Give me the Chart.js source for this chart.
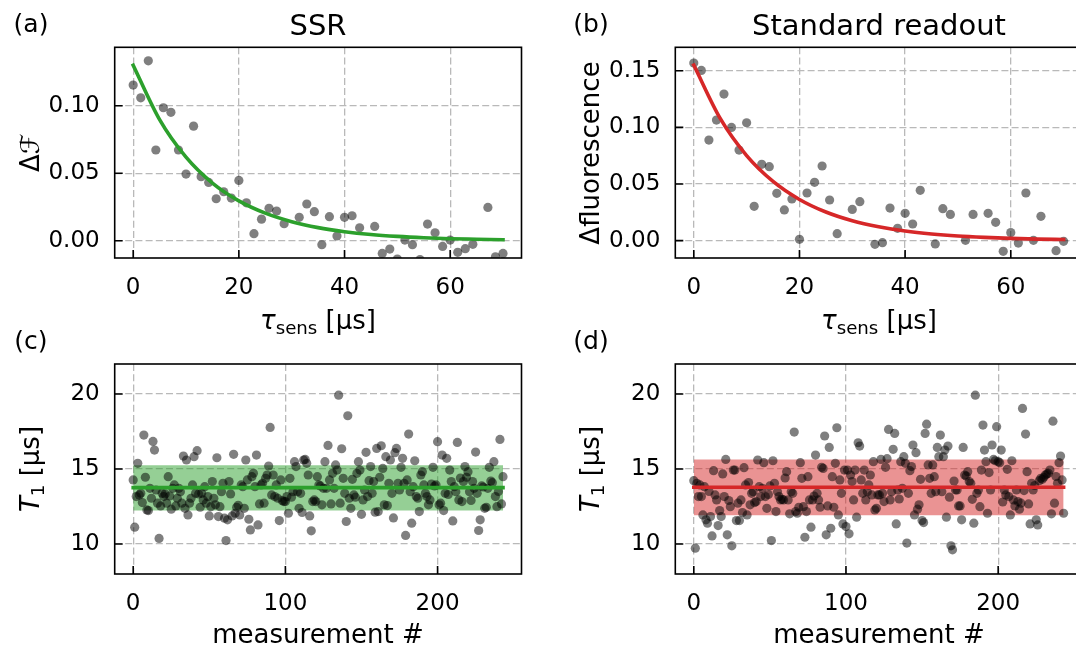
<!DOCTYPE html>
<html>
<head>
<meta charset="utf-8">
<script src="https://cdn.jsdelivr.net/npm/chart.js@4.4.1/dist/chart.umd.min.js"></script>
<style>
  html, body { margin: 0; padding: 0; background: #fff; }
  #fig { position: relative; width: 1076px; height: 652px; overflow: hidden; font-family: "DejaVu Sans", sans-serif; color: #000; }
  canvas { position: absolute; }
  .txt { position: absolute; transform: translate(-50%, -50%); white-space: nowrap; line-height: 1; }
  .rot { transform: translate(-50%, -50%) rotate(-90deg); }
  .letter { font-size: 25px; }
  .title { font-size: 29px; }
  .axlab { font-size: 26px; }
  sub { font-size: 0.7em; vertical-align: -0.25em; line-height: 0; }
</style>
</head>
<body>
<div id="fig">
  <canvas id="cA" width="540" height="326" style="left:0;top:0"></canvas>
  <canvas id="cB" width="560" height="326" style="left:540px;top:0"></canvas>
  <canvas id="cC" width="540" height="326" style="left:0;top:326px"></canvas>
  <canvas id="cD" width="560" height="326" style="left:540px;top:326px"></canvas>

  <div class="txt letter" style="left:31px;top:23px">(a)</div>
  <div class="txt title" style="left:318px;top:25px">SSR</div>
  <div class="txt letter" style="left:591px;top:23px">(b)</div>
  <div class="txt title" style="left:879px;top:25px">Standard readout</div>
  <div class="txt letter" style="left:31px;top:340px">(c)</div>
  <div class="txt letter" style="left:591px;top:340px">(d)</div>

  <div class="txt axlab" style="left:318px;top:320px"><i>τ</i><sub>sens</sub> [μs]</div>
  <div class="txt axlab" style="left:879px;top:320px"><i>τ</i><sub>sens</sub> [μs]</div>
  <div class="txt axlab" style="left:318px;top:634px">measurement #</div>
  <div class="txt axlab" style="left:879px;top:634px">measurement #</div>

  <div class="txt axlab rot" style="left:30px;top:153px">Δℱ</div>
  <div class="txt axlab rot" style="left:590px;top:153px">Δfluorescence</div>
  <div class="txt axlab rot" style="left:30px;top:469px"><i>T</i><sub>1</sub> [μs]</div>
  <div class="txt axlab rot" style="left:590px;top:469px"><i>T</i><sub>1</sub> [μs]</div>
</div>

<script>
// sensing times, 50 steps from 0 to 70 us
const tauSens = [0, 1.43, 2.86, 4.29, 5.71, 7.14, 8.57, 10, 11.43, 12.86,
  14.29, 15.71, 17.14, 18.57, 20, 21.43, 22.86, 24.29, 25.71, 27.14,
  28.57, 30, 31.43, 32.86, 34.29, 35.71, 37.14, 38.57, 40, 41.43,
  42.86, 44.29, 45.71, 47.14, 48.57, 50, 51.43, 52.86, 54.29, 55.71,
  57.14, 58.57, 60, 61.43, 62.86, 64.29, 65.71, 67.14, 68.57, 70];

const ssrSignal = [0.1153, 0.1059, 0.1333, 0.0672, 0.0985, 0.0951, 0.0672, 0.0494, 0.0849, 0.0474,
  0.0432, 0.0311, 0.0363, 0.0316, 0.0447, 0.0281, 0.0052, 0.0160, 0.0240, 0.0220,
  0.0126, -0.025, 0.0173, 0.0272, 0.0215, -0.0030, 0.0178, 0.0035, 0.0173, 0.0185,
  0.0096, -0.025, 0.0106, -0.0094, -0.0062, -0.0136, 0.0005, -0.0030, -0.0140, 0.0123,
  0.0059, -0.0042, 0.0005, -0.0086, -0.0059, -0.0027, -0.025, 0.0247, -0.0119, -0.0094];

const stdSignal = [0.1568, 0.1503, 0.0888, 0.1065, 0.1294, 0.1000, 0.0800, 0.1041, 0.0303, 0.0674,
  0.0653, 0.0418, 0.0271, 0.0368, 0.0012, 0.0421, 0.0515, 0.0659, 0.0359, 0.0062,
  -0.025, 0.0276, 0.0344, -0.025, -0.0032, -0.0018, 0.0288, 0.0109, 0.0241, 0.0147,
  0.0444, -0.025, -0.0029, 0.0282, 0.0232, -0.025, 0.0003, 0.0232, -0.025, 0.0241,
  0.0162, -0.0094, 0.0071, -0.0021, 0.0421, 0.0003, 0.0215, -0.025, -0.0088, -0.0006];

// exponential fits
const fitTau = [0, 5, 10, 15, 20, 25, 30, 35, 40, 45, 50, 55, 60, 65, 70];
const ssrFit = [0.1300, 0.0897, 0.0619, 0.0427, 0.0295, 0.0204, 0.0141, 0.0097, 0.0067, 0.0046, 0.0032, 0.0022, 0.0015, 0.0011, 0.0007];
const stdFit = [0.1550, 0.1079, 0.0751, 0.0523, 0.0364, 0.0253, 0.0176, 0.0123, 0.0085, 0.0059, 0.0041, 0.0029, 0.0020, 0.0014, 0.0010];

// repeated T1 measurements (us), measurement # = position in list
const ssrT1 = [14.27, 11.12, 13.16, 15.38, 13.27, 13.38, 12.76, 17.26, 14.45, 12.27,
  12.23, 13.71, 13.05, 16.84, 16.26, 13.60, 12.72, 10.37, 12.54, 13.38,
  13.16, 13.34, 12.72, 14.49, 13.20, 12.32, 13.71, 13.94, 12.54, 13.05,
  13.71, 13.49, 12.72, 15.86, 12.38, 15.60, 11.94, 12.72, 13.05, 13.94,
  15.82, 13.38, 16.22, 13.34, 12.45, 13.38, 12.94, 13.82, 12.72, 13.16,
  11.87, 12.49, 14.16, 13.05, 12.61, 15.75, 11.83, 12.49, 13.49, 14.05,
  11.72, 10.23, 11.61, 14.16, 13.34, 11.87, 15.98, 12.05, 12.45, 12.58,
  11.94, 13.94, 13.82, 12.38, 15.60, 14.27, 11.65, 10.94, 14.49, 14.71,
  13.82, 15.93, 11.27, 12.67, 13.94, 14.05, 12.72, 14.38, 14.60, 15.20,
  17.77, 13.27, 14.60, 13.16, 13.94, 13.05, 11.56, 14.27, 12.89, 12.83,
  12.83, 13.16, 12.05, 14.38, 13.12, 13.49, 15.49, 15.16, 13.49, 12.38,
  13.38, 12.10, 15.60, 15.64, 15.38, 14.60, 11.87, 10.88, 12.83, 12.94,
  12.83, 14.49, 13.94, 13.87, 12.61, 13.71, 15.49, 13.71, 16.57, 14.27,
  12.67, 14.71, 13.71, 15.27, 14.93, 19.92, 12.72, 16.35, 14.38, 13.38,
  11.50, 18.55, 13.05, 12.38, 14.31, 13.27, 13.12, 14.71, 15.49, 14.93,
  11.98, 12.94, 13.60, 16.11, 13.16, 14.22, 15.16, 13.38, 14.16, 12.12,
  16.37, 12.16, 14.45, 16.55, 15.04, 12.61, 15.82, 12.56, 14.05, 15.60,
  13.38, 11.74, 16.09, 16.37, 14.05, 13.60, 15.11, 15.71, 14.05, 10.57, 14.27,
  17.33, 13.49, 11.39, 13.82, 15.55, 13.16, 13.05, 12.16, 14.60, 14.82,
  13.94, 13.38, 13.16, 12.61, 12.94, 14.00, 15.11, 13.87, 13.94, 16.82, 12.61,
  12.72, 15.93, 12.23, 13.38, 15.71, 13.30, 14.93, 14.16, 11.54, 13.82, 13.49,
  16.77, 12.94, 14.40, 12.83, 14.16, 15.16, 14.45, 14.82, 13.49, 12.90, 14.16, 13.71,
  16.13, 13.38, 10.90, 11.61, 13.87, 13.80, 12.38, 12.45, 13.71, 15.11, 14.20, 14.09,
  15.49, 13.16, 12.49, 13.50, 16.97, 12.67, 14.49];

const stdT1 = [14.22, 9.72, 14.05, 13.16, 13.94, 13.16, 11.94, 13.82, 11.61, 11.39, 13.50,
  11.83, 10.54, 14.89, 13.27, 12.94, 11.23, 12.23, 11.83, 14.67, 13.16,
  15.64, 10.61, 12.90, 12.49, 9.88, 14.93, 14.93, 11.56, 12.72, 11.56, 12.94,
  12.10, 15.09, 13.94, 11.94, 14.10, 12.61, 13.38, 13.49, 12.76, 12.83, 15.60,
  13.82, 13.16, 13.71, 15.42, 13.16, 12.38, 13.30, 13.87, 10.23, 15.55, 14.05,
  12.16, 13.49, 13.16, 12.94, 12.98, 12.94, 14.40, 14.82, 12.94, 12.01, 13.49,
  13.38, 17.46, 12.16, 12.05, 12.45, 15.42, 14.38, 12.49, 10.45, 12.16,
  14.49, 12.94, 11.12, 12.94, 13.20, 15.93, 13.38, 12.94, 12.45, 15.11,
  15.04, 17.20, 10.61, 12.54, 16.44, 11.05, 14.49, 12.45, 15.38, 17.75,
  11.94, 14.27, 13.38, 11.34, 14.93, 11.16, 14.93, 10.68, 14.60, 14.16,
  12.94, 14.93, 11.79, 16.75, 16.53, 14.27, 13.38, 14.93, 12.94, 13.49,
  13.94, 14.60, 13.27, 15.49, 12.27, 12.38, 13.27, 13.27, 15.64, 13.38,
  12.83, 15.11, 15.69, 17.64, 12.94, 13.49, 16.31, 17.37, 11.34, 13.60, 13.00,
  15.49, 13.71, 15.82, 15.38, 10.06, 13.38, 14.89, 15.16, 16.60, 11.94,
  16.09, 12.32, 12.61, 14.31, 11.56, 11.43, 17.37, 17.99, 15.27, 14.38,
  13.38, 15.27, 14.49, 13.49, 16.44, 15.82, 17.26, 13.49, 15.82, 16.26,
  11.79, 16.53, 13.12, 9.88, 9.61, 14.20, 13.60, 13.60, 12.54, 12.54, 11.61,
  16.44, 14.60, 14.53, 14.82, 14.16, 14.05, 12.98, 11.39, 19.92, 13.38, 13.60,
  12.49, 14.93, 17.93, 16.26, 15.49, 12.05, 14.76, 13.60, 16.60, 15.64,
  15.55, 17.82, 15.49, 15.42, 16.26, 12.80, 13.60, 13.27, 14.98, 13.16, 11.94,
  15.55, 12.94, 12.54, 13.60, 12.83, 12.32, 12.72, 19.04, 13.56, 17.33,
  14.82, 12.67, 11.34, 14.05, 13.60, 13.90, 11.61, 11.27, 14.22, 14.38, 14.31,
  14.45, 14.60, 14.67, 14.71, 14.93, 12.01, 18.19, 12.72, 14.50,
  14.05, 15.42, 15.86, 14.27, 12.05];

// mean and +-1 sigma band, drawn across the measurement range
const bandEdges = [0, 243];
const ssrMean = [13.76, 13.76];
const ssrUpper = [15.25, 15.25];
const ssrLower = [12.23, 12.23];
const stdMean = [13.78, 13.78];
const stdUpper = [15.64, 15.64];
const stdLower = [11.92, 11.92];

const tauTicks = [0, 20, 40, 60];
const measTicks = [0, 100, 200];
const ssrSignalTicks = [0, 0.05, 0.10];
const stdSignalTicks = [0, 0.05, 0.10, 0.15];
const t1Ticks = [10, 15, 20];

const FONT = "'DejaVu Sans', sans-serif";
const GREEN = '#2ca02c';
const RED = '#d62728';

// full black frame plus inward tick marks on bottom and left
const frameTicks = {
  id: 'frameTicks',
  afterDraw(chart) {
    const { ctx, chartArea: a, scales: { x, y } } = chart;
    ctx.save();
    ctx.strokeStyle = '#000';
    ctx.lineWidth = 1.6;
    ctx.beginPath();
    x.ticks.forEach(t => {
      const px = x.getPixelForValue(t.value);
      ctx.moveTo(px, a.bottom);
      ctx.lineTo(px, a.bottom - 8);
    });
    y.ticks.forEach(t => {
      const py = y.getPixelForValue(t.value);
      ctx.moveTo(a.left, py);
      ctx.lineTo(a.left + 8, py);
    });
    ctx.stroke();
    ctx.strokeRect(a.left, a.top, a.right - a.left, a.bottom - a.top);
    ctx.restore();
  }
};

function axis(which, range, tickVals, fmt) {
  return {
    type: 'linear',
    min: range[0],
    max: range[1],
    afterFit: s => { if (which === 'x') s.height = 40; else s.width = 80; },
    afterBuildTicks: s => { s.ticks = tickVals.map(v => ({ value: v })); },
    grid: { color: '#b9b9b9', lineWidth: 1.3, drawTicks: false },
    border: { display: false, dash: [7, 3.2] },
    ticks: {
      color: '#000',
      padding: which === 'x' ? 16 : 15,
      font: { family: FONT, size: 23 },
      maxRotation: 0,
      autoSkip: false,
      callback: v => fmt(v)
    }
  };
}

function points(xs, ys) {
  return {
    data: xs.map((v, i) => ({ x: v, y: ys[i] })),
    showLine: false,
    pointRadius: 4.6,
    pointBackgroundColor: 'rgba(0,0,0,0.5)',
    pointBorderWidth: 0,
    pointHoverRadius: 0,
    clip: 0
  };
}

function curve(xs, ys, color) {
  return {
    data: xs.map((v, i) => ({ x: v, y: ys[i] })),
    showLine: true,
    borderColor: color,
    borderWidth: 3.6,
    borderCapStyle: 'square',
    cubicInterpolationMode: 'monotone',
    pointRadius: 0,
    fill: false
  };
}

function band(ys, color, fill) {
  return {
    data: bandEdges.map((v, i) => ({ x: v, y: ys[i] })),
    showLine: true,
    borderColor: 'rgba(0,0,0,0)',
    borderWidth: 1,
    pointRadius: 0,
    backgroundColor: color,
    fill: fill
  };
}

function panel(id, pad, xr, yr, xt, yt, yFmt, datasets) {
  return new Chart(document.getElementById(id), {
    type: 'scatter',
    data: { datasets },
    options: {
      responsive: false,
      animation: false,
      devicePixelRatio: 1,
      layout: { autoPadding: false, padding: pad },
      plugins: { legend: { display: false }, tooltip: { enabled: false } },
      scales: {
        x: axis('x', xr, xt, v => String(v)),
        y: axis('y', yr, yt, yFmt)
      }
    },
    plugins: [frameTicks]
  });
}

const fix2 = v => v.toFixed(2);
const int = v => String(Math.round(v));

panel('cA', { left: 34.7, top: 47.3, right: 18.5, bottom: 28 },
  [-3.5, 73.5], [-0.0128, 0.1433], tauTicks, ssrSignalTicks, fix2,
  [curve(fitTau, ssrFit, GREEN), points(tauSens, ssrSignal)]);

panel('cB', { left: 55.3, top: 47.3, right: 17.9, bottom: 28 },
  [-3.5, 73.5], [-0.0153, 0.1707], tauTicks, stdSignalTicks, fix2,
  [curve(fitTau, stdFit, RED), points(tauSens, stdSignal)]);

panel('cC', { left: 34.7, top: 38, right: 18.5, bottom: 38 },
  [-12.15, 255.15], [8, 22], measTicks, t1Ticks, int,
  [curve(bandEdges, ssrMean, GREEN), points(ssrT1.map((v, i) => i), ssrT1),
   band(ssrUpper, 'rgba(44,160,44,0.5)', '+1'), band(ssrLower, 'rgba(44,160,44,0.5)', false)]);

panel('cD', { left: 55.3, top: 38, right: 17.9, bottom: 38 },
  [-12.15, 255.15], [8, 22], measTicks, t1Ticks, int,
  [curve(bandEdges, stdMean, RED), points(stdT1.map((v, i) => i), stdT1),
   band(stdUpper, 'rgba(214,39,40,0.5)', '+1'), band(stdLower, 'rgba(214,39,40,0.5)', false)]);
</script>
</body>
</html>
